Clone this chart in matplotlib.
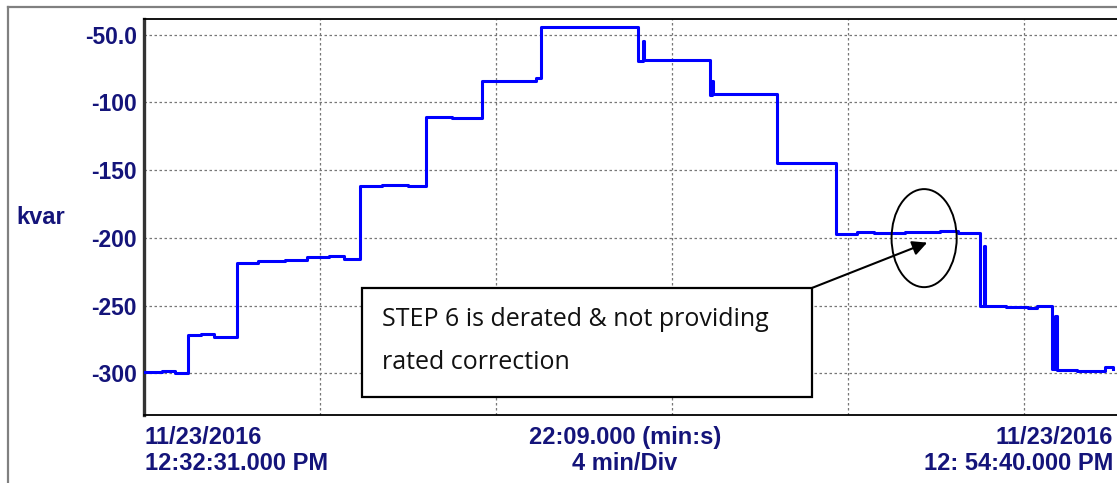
import matplotlib.pyplot as plt
from matplotlib.patches import Ellipse, Rectangle
from matplotlib.lines import Line2D

# elapsed time (min) since 12:32:31 PM and reactive power (kvar)
minutes = [0.00, 0.40, 0.70, 1.00, 1.30, 1.60, 2.11, 2.60, 3.20, 3.70, 4.20, 4.55,
           4.91, 5.40, 6.00, 6.41, 7.00, 7.68, 8.60, 8.90, 9.02, 11.23, 11.33, 11.36,
           12.86, 12.90, 12.93, 14.39, 15.00, 15.73, 16.20, 16.60, 17.30, 18.10, 18.50,
           19.00, 19.08, 19.11, 19.60, 20.10, 20.30, 20.64, 20.71, 20.74, 21.20, 21.85, 22.02]
kvar = [-299, -298, -299.5, -272, -271, -273, -218.5, -217, -216, -214.5, -213.5, -215.5,
        -162, -161, -161.5, -110.5, -111.5, -84.5, -84, -82, -44, -69.5, -55, -68.5,
        -94.5, -84, -94, -145, -144.5, -197, -195.5, -196.5, -196, -195.3, -196.5,
        -250, -206, -250, -251, -252, -250.5, -297, -258, -297.5, -298, -295.5, -297]

y_ticks = [-50, -100, -150, -200, -250, -300]
y_tick_labels = ['-50.0', '-100', '-150', '-200', '-250', '-300']
x_grid = [4, 8, 12, 16, 20]

navy = '#14147a'
W, H = 1117, 483

fig = plt.figure(figsize=(W / 100, H / 100), dpi=100)
ax = fig.add_axes([144 / W, 1 - 415 / H, 22.15 * 44 / W, 396 / H])

ax.plot(minutes, kvar, drawstyle='steps-post', color='#0000ff', lw=2.2, zorder=3)

ax.set_xlim(0, 22.15)
ax.set_ylim(-330.8, -38.4)
ax.set_xticks(x_grid)
ax.set_yticks(y_ticks)
ax.set_yticklabels(y_tick_labels)
ax.tick_params(axis='x', length=0, labelbottom=False)
ax.tick_params(axis='y', length=0, pad=5, labelsize=16.5, labelcolor=navy)
for lab in ax.get_yticklabels():
    lab.set_fontfamily('Liberation Sans')
    lab.set_fontweight('bold')
ax.grid(True, color='#777777', ls=(0, (2, 2)), lw=0.9)

ax.spines['right'].set_visible(False)
ax.spines['left'].set_linewidth(2.4)
ax.spines['left'].set_color('#333333')
ax.spines['top'].set_linewidth(1.3)
ax.spines['bottom'].set_linewidth(1.3)

# annotation box, arrow and ellipse
ax.add_patch(Rectangle((4.95, -317.5), 10.23, 80.5, facecolor='white',
                       edgecolor='black', lw=1.6, zorder=4))
ax.text(5.41, -265, 'STEP 6 is derated & not providing', family='Open Sans',
        fontsize=18, va='baseline', ha='left', color='#111111', zorder=5)
ax.text(5.41, -296.5, 'rated correction', family='Open Sans',
        fontsize=18, va='baseline', ha='left', color='#111111', zorder=5)
ax.annotate('', xy=(17.8, -203.5), xytext=(15.18, -237),
            arrowprops=dict(arrowstyle='-|>', color='black', lw=1.5,
                            mutation_scale=22, shrinkA=0, shrinkB=0), zorder=5)
ax.add_patch(Ellipse((17.73, -200.2), 1.48, 72.4, fill=False,
                     edgecolor='black', lw=1.4, zorder=5))

# axis texts
bold = dict(family='Liberation Sans', fontweight='bold', color=navy, fontsize=17)
fig.text(41 / W, 1 - 218 / H, 'kvar', ha='center', va='center', **bold)
fig.text(145 / W, 1 - 444 / H, '11/23/2016', ha='left', va='baseline', **bold)
fig.text(145 / W, 1 - 470 / H, '12:32:31.000 PM', ha='left', va='baseline', **bold)
fig.text(625 / W, 1 - 444 / H, '22:09.000 (min:s)', ha='center', va='baseline', **bold)
fig.text(625 / W, 1 - 470 / H, '4 min/Div', ha='center', va='baseline', **bold)
fig.text(1113 / W, 1 - 444 / H, '11/23/2016', ha='right', va='baseline', **bold)
fig.text(1113 / W, 1 - 470 / H, '12: 54:40.000 PM', ha='right', va='baseline', **bold)

# outer window frame
fig.add_artist(Line2D([8 / W, 1], [1 - 7 / H, 1 - 7 / H], color='#808080', lw=1.6))
fig.add_artist(Line2D([8 / W, 8 / W], [0, 1 - 7 / H], color='#808080', lw=1.6))

fig.savefig('out.png', dpi=100)
